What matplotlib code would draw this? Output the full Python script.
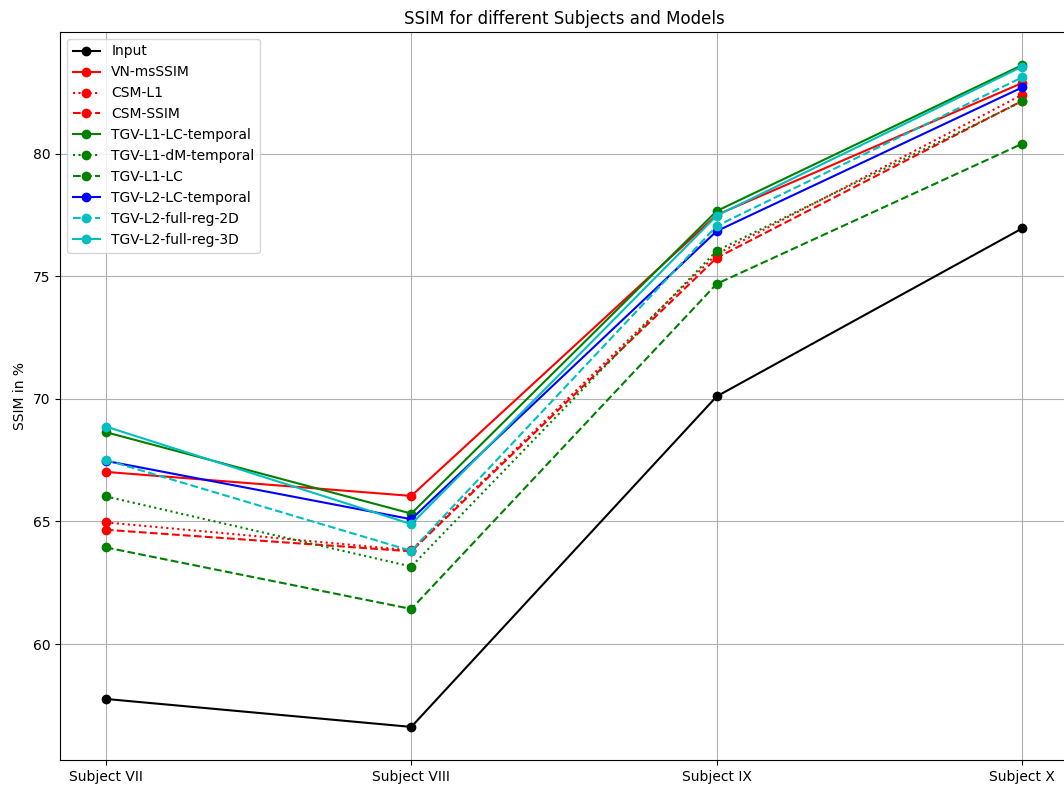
import numpy as np
import matplotlib.pyplot as plt

subjects = ['Subject VII', 'Subject VIII', 'Subject IX', 'Subject X']

# SSIM in % per model, one value per subject
ssim_input = [57.76, 56.62, 70.10, 76.95]
ssim_vn_msssim = [67.02, 66.04, 77.50, 82.88]
ssim_csm_l1 = [64.96, 63.82, 75.90, 82.40]
ssim_csm_ssim = [64.66, 63.78, 75.75, 82.15]
ssim_tgv_l1_lc_temporal = [68.64, 65.32, 77.66, 83.61]
ssim_tgv_l1_dm_temporal = [66.02, 63.16, 76.04, 82.13]
ssim_tgv_l1_lc = [63.94, 61.43, 74.69, 80.40]
ssim_tgv_l2_lc_temporal = [67.47, 65.09, 76.84, 82.70]
ssim_tgv_l2_full_reg_2d = [67.51, 63.80, 77.05, 83.11]
ssim_tgv_l2_full_reg_3d = [68.87, 64.89, 77.47, 83.55]

models = [
    ('Input', ssim_input, 'k', '-'),
    ('VN-msSSIM', ssim_vn_msssim, 'r', '-'),
    ('CSM-L1', ssim_csm_l1, 'r', ':'),
    ('CSM-SSIM', ssim_csm_ssim, 'r', '--'),
    ('TGV-L1-LC-temporal', ssim_tgv_l1_lc_temporal, 'g', '-'),
    ('TGV-L1-dM-temporal', ssim_tgv_l1_dm_temporal, 'g', ':'),
    ('TGV-L1-LC', ssim_tgv_l1_lc, 'g', '--'),
    ('TGV-L2-LC-temporal', ssim_tgv_l2_lc_temporal, 'b', '-'),
    ('TGV-L2-full-reg-2D', ssim_tgv_l2_full_reg_2d, 'c', '--'),
    ('TGV-L2-full-reg-3D', ssim_tgv_l2_full_reg_3d, 'c', '-'),
]

fig = plt.figure(figsize=(10.64, 7.85), dpi=100)
ax = fig.add_axes([60 / 1064, 25 / 785, 1008 / 1064, 728 / 785])

x = np.arange(len(subjects))
for name, vals, col, ls in models:
    ax.plot(x, vals, color=col, linestyle=ls, marker='o', label=name)

ax.set_xticks(x)
ax.set_xticklabels(subjects)
ax.set_yticks([60, 65, 70, 75, 80])
ax.set_ylabel('SSIM in %')
ax.set_title('SSIM for different Subjects and Models')
ax.grid(True)
ax.legend(loc='upper left')

plt.savefig('out.png', dpi=100)
